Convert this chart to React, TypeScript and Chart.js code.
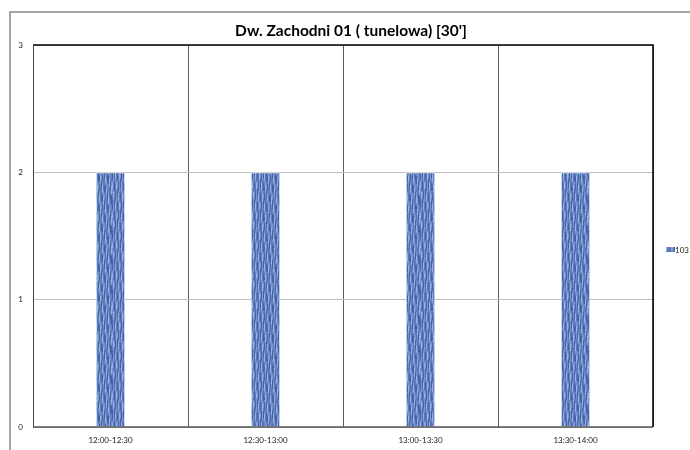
import React, { useEffect, useRef } from "react";
import { Chart, registerables } from "chart.js";

Chart.register(...registerables);

const TITLE = "Dw. Zachodni 01 ( tunelowa) [30']";
const categories = ["12:00-12:30", "12:30-13:00", "13:00-13:30", "13:30-14:00"];
const seriesName = "103";
const seriesValues = [2, 2, 2, 2];
const yTicks = [0, 1, 2, 3];

function makePattern(): CanvasPattern | string {
  const c = document.createElement("canvas");
  c.width = 28;
  c.height = 60;
  const g = c.getContext("2d");
  if (!g) return "#5b7cc0";
  for (let x = 0; x < 28; x++) {
    for (let y = 0; y < 60; y++) {
      const v =
        Math.sin(x * 2.1 + Math.sin(y * 0.21 + x * 0.7) * 1.4) * 0.8 +
        Math.sin(y * 0.42 + x * 1.3) * 0.35;
      let col;
      if (v > 0.75) col = "#9bb1de";
      else if (v > 0.2) col = "#7893cd";
      else if (v > -0.45) col = "#5d7dc0";
      else col = "#4464a6";
      g.fillStyle = col;
      g.fillRect(x, y, 1, 1);
    }
  }
  const p = g.createPattern(c, "repeat");
  return p || "#5b7cc0";
}

const decorPlugin = {
  id: "decor",
  beforeDraw(chart: any) {
    const ctx = chart.ctx;
    ctx.save();
    ctx.fillStyle = "#ffffff";
    ctx.fillRect(0, 0, chart.width, chart.height);
    ctx.strokeStyle = "#a6a6a6";
    ctx.lineWidth = 2;
    ctx.strokeRect(10, 12, chart.width + 20, chart.height + 20);
    ctx.restore();
  },
  afterDraw(chart: any) {
    const ctx = chart.ctx;
    const a = chart.chartArea;
    ctx.save();
    // plot border
    ctx.strokeStyle = "#000000";
    ctx.lineWidth = 1.5;
    ctx.beginPath();
    ctx.moveTo(a.left, a.top);
    ctx.lineTo(a.right, a.top);
    ctx.lineTo(a.right, a.bottom);
    ctx.stroke();
    ctx.strokeStyle = "#444444";
    ctx.lineWidth = 1;
    ctx.beginPath();
    ctx.moveTo(a.left + 0.5, a.top);
    ctx.lineTo(a.left + 0.5, a.bottom);
    ctx.stroke();
    ctx.strokeStyle = "#555555";
    ctx.lineWidth = 1.5;
    ctx.beginPath();
    ctx.moveTo(a.left, a.bottom);
    ctx.lineTo(a.right, a.bottom);
    ctx.stroke();
    // title
    ctx.fillStyle = "#000000";
    ctx.font = "bold 15.5px Lato, 'Open Sans', sans-serif";
    ctx.textAlign = "center";
    ctx.textBaseline = "middle";
    ctx.fillText(TITLE, 351, 31);
    // legend
    const ds = chart.data.datasets[0];
    ctx.fillStyle = ds.backgroundColor;
    ctx.fillRect(666, 247, 9, 5);
    ctx.fillStyle = "#5a7cc0";
    ctx.fillRect(666, 251, 9, 1);
    ctx.fillStyle = "#222222";
    ctx.font = "8px Lato, 'Open Sans', sans-serif";
    ctx.textAlign = "left";
    ctx.fillText(seriesName, 675, 250);
    ctx.restore();
  },
};

export default function App() {
  const ref = useRef<HTMLCanvasElement>(null);
  useEffect(() => {
    document.body.style.margin = "0";
    if (!ref.current) return;
    const chart = new Chart(ref.current, {
      type: "bar",
      data: {
        labels: categories,
        datasets: [
          {
            label: seriesName,
            data: seriesValues,
            backgroundColor: makePattern() as any,
            borderColor: "#d9e1f1",
            borderWidth: 1,
            barPercentage: 0.19,
            categoryPercentage: 1,
          },
        ],
      },
      options: {
        responsive: false,
        animation: false,
        layout: { padding: { left: 0, top: 45, right: 37, bottom: 0 } },
        plugins: {
          legend: { display: false },
          title: { display: false },
          tooltip: { enabled: false },
        },
        scales: {
          x: {
            offset: true,
            grid: { offset: true, color: "#5e5e5e", lineWidth: 1, drawTicks: false },
            border: { display: false },
            ticks: {
              color: "#222",
              font: { family: "Lato, 'Open Sans', sans-serif", size: 8 },
              padding: 9,
              maxRotation: 0,
            },
            afterFit(scale: any) {
              scale.height = 23;
            },
          },
          y: {
            min: 0,
            max: 3,
            afterBuildTicks(scale: any) {
              scale.ticks = yTicks.map((v) => ({ value: v }));
            },
            grid: { color: "#bdbdbd", lineWidth: 1, drawTicks: false },
            border: { display: false },
            ticks: {
              color: "#222",
              font: { family: "Lato, 'Open Sans', sans-serif", size: 8 },
              padding: 10,
            },
            afterFit(scale: any) {
              scale.width = 33;
            },
          },
        },
      },
      plugins: [decorPlugin],
    });
    return () => chart.destroy();
  }, []);
  return (
    <div style={{ width: 690, height: 450 }}>
      <canvas ref={ref} width={690} height={450} style={{ display: "block", width: 690, height: 450 }} />
    </div>
  );
}
